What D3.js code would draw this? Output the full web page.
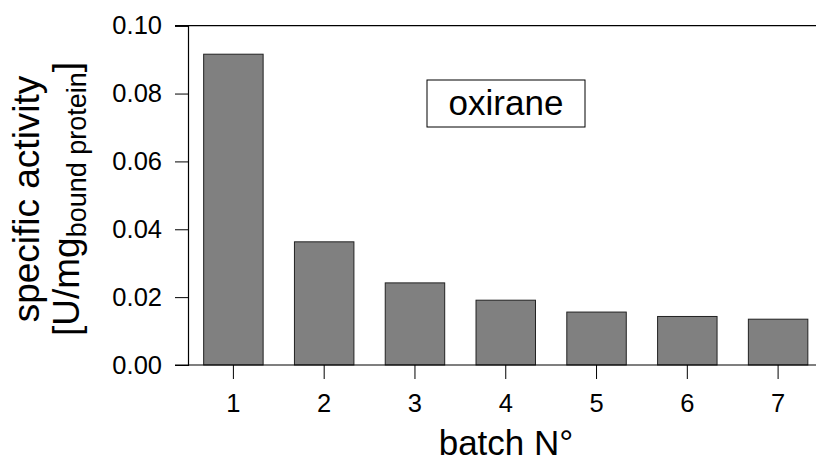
<!DOCTYPE html>
<html>
<head>
<meta charset="utf-8">
<script src="https://cdn.jsdelivr.net/npm/d3@7"></script>
<style>
  html, body { margin: 0; padding: 0; background: #fff; }
  svg { display: block; }
  text { font-family: "Liberation Sans", Arial, Helvetica, sans-serif; fill: #000; }
</style>
</head>
<body>
<svg id="chart" width="816" height="462"></svg>
<script>
// Specific activity of the oxirane-immobilised enzyme over repeated batches
const batches = [1, 2, 3, 4, 5, 6, 7];
const activity = [0.0916, 0.0363, 0.0242, 0.0191, 0.0156, 0.0143, 0.0135];
const yTicks = [0.00, 0.02, 0.04, 0.06, 0.08, 0.10];
const legendLabel = "oxirane";

const svg = d3.select("#chart");
const W = 816, H = 462;
const plot = { left: 188, right: 823.5, top: 25.7, bottom: 365 };

const x = d3.scaleBand()
  .domain(batches)
  .range([plot.left, plot.right])
  .paddingInner(0.345)
  .paddingOuter(0.1725);

const y = d3.scaleLinear()
  .domain([0, 0.10])
  .range([plot.bottom, plot.top]);

// bars
svg.append("g")
  .selectAll("rect")
  .data(batches)
  .join("rect")
  .attr("x", d => x(d))
  .attr("width", x.bandwidth())
  .attr("y", (d, i) => y(activity[i]))
  .attr("height", (d, i) => y(0) - y(activity[i]))
  .attr("fill", "#808080")
  .attr("stroke", "#222")
  .attr("stroke-width", 1);

// frame lines: top and bottom run from the tick stubs to the right edge
svg.append("line")
  .attr("x1", plot.left - 13).attr("x2", W)
  .attr("y1", y(0.10)).attr("y2", y(0.10))
  .attr("stroke", "#000").attr("stroke-width", 1.2);
svg.append("line")
  .attr("x1", plot.left - 13).attr("x2", W)
  .attr("y1", y(0)).attr("y2", y(0))
  .attr("stroke", "#000").attr("stroke-width", 1.2);

// y axis
const yAxis = svg.append("g")
  .attr("transform", `translate(${plot.left},0)`)
  .call(d3.axisLeft(y).tickValues(yTicks).tickFormat(d3.format(".2f")).tickSize(13).tickPadding(13));
yAxis.select(".domain").attr("stroke", "#000").attr("stroke-width", 1.2);
yAxis.selectAll(".tick line").attr("stroke", "#000");
yAxis.selectAll(".tick text")
  .attr("font-size", 25.5)
  .attr("font-family", "Liberation Sans, Arial, sans-serif")
  .attr("fill", "#000");

// x axis
const xAxis = svg.append("g")
  .attr("transform", `translate(0,${plot.bottom})`)
  .call(d3.axisBottom(x).tickSize(14).tickPadding(15));
xAxis.select(".domain").remove();
xAxis.selectAll(".tick line").attr("stroke", "#000");
xAxis.selectAll(".tick text")
  .attr("font-size", 25.5)
  .attr("font-family", "Liberation Sans, Arial, sans-serif")
  .attr("fill", "#000");

// axis titles
svg.append("text")
  .attr("x", 506).attr("y", 455)
  .attr("text-anchor", "middle")
  .attr("font-size", 35)
  .text("batch N°");

const yTitle = svg.append("g")
  .attr("transform", "translate(0,199) rotate(-90)");
yTitle.append("text")
  .attr("x", 0).attr("y", 39)
  .attr("text-anchor", "middle")
  .attr("font-size", 37)
  .text("specific activity");
const t2 = yTitle.append("text")
  .attr("x", 0).attr("y", 79)
  .attr("text-anchor", "middle")
  .attr("font-size", 37);
t2.append("tspan").text("[U/mg");
t2.append("tspan").attr("font-size", 27).attr("dy", 7).text("bound protein");
t2.append("tspan").attr("dy", -7).text("]");

// legend box
const lg = svg.append("g");
lg.append("rect")
  .attr("x", 427).attr("y", 80)
  .attr("width", 158).attr("height", 47)
  .attr("fill", "#fff").attr("stroke", "#000").attr("stroke-width", 1);
lg.append("text")
  .attr("x", 506).attr("y", 115)
  .attr("text-anchor", "middle")
  .attr("font-size", 35)
  .text(legendLabel);
</script>
</body>
</html>
